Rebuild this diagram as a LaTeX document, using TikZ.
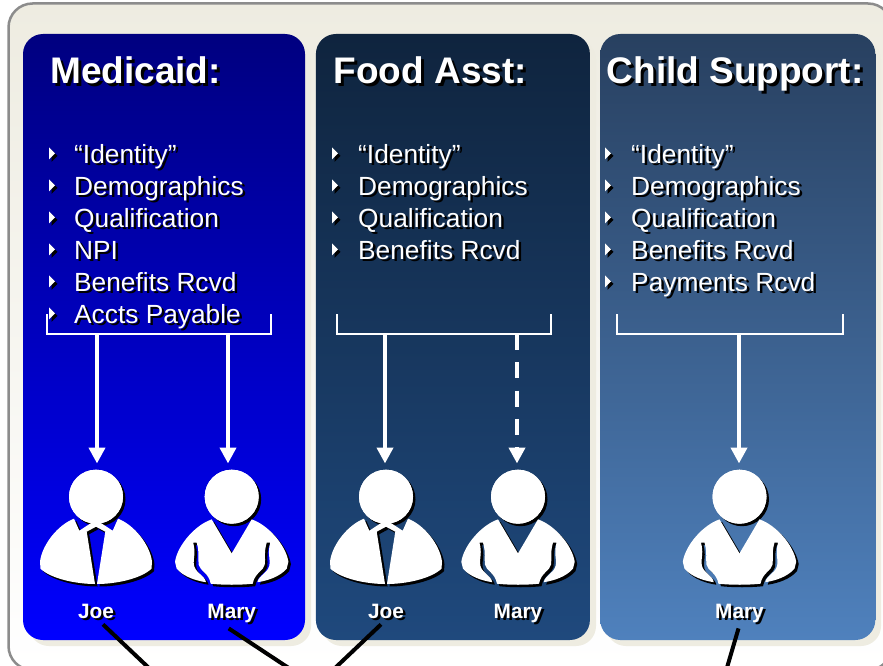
\documentclass[tikz,border=0pt]{standalone}
\usepackage{fontspec}
\setmainfont{Liberation Sans}
\usepackage{tikz}
\usetikzlibrary{arrows.meta,positioning,calc}

\definecolor{frameline}{HTML}{8C8C8C}
\definecolor{beige}{HTML}{EEECE1}

\newcommand{\shtext}[2][2.5pt]{\leavevmode\rlap{\kern#1\raisebox{-#1}{\color{black}#2}}#2}

\tikzset{
  panel/.style={shape=rectangle,rounded corners=20pt,inner sep=0pt,minimum height=606pt},
  backing/.style={fill=beige,rounded corners=20pt},
  title/.style={anchor=base west,inner sep=0pt,text=white,font=\fontsize{37}{40}\selectfont\bfseries},
  itemtext/.style={anchor=base west,inner sep=0pt,text=white,font=\fontsize{26.3}{30}\selectfont},
  namelabel/.style={inner sep=0pt,text=white,font=\fontsize{20.8}{24}\selectfont\bfseries},
  headnode/.style={shape=circle,fill=white,inner sep=0pt,minimum size=54pt},
  bracket/.style={draw=white,line width=2.3pt},
  feed/.style={white,line width=4pt,shorten >=6pt,-{Triangle[width=16pt,length=16pt]}},
  link/.style={black,line width=4pt},
  bullet/.pic={
    \fill[black] (2.5,-3.5) -- (8.5,2.5) -- (2.5,8.5) -- cycle;
    \fill[white] (0,-6) -- (6,0) -- (0,6) -- cycle;
  },
  man/.pic={
    \foreach \off/\col in {2.5/black,0/white} {
      \begin{scope}[shift={(\off,\off)}]
        \foreach \side in {1,-1} {
          \fill[\col,xscale=\side] (-22,22) .. controls (-38,28) and (-54,48) .. (-56,65)
            -- (-55.5,72) .. controls (-45,82) and (-20,87.3) .. (-1,87.3)
            -- (-9.3,35) -- (0,30) -- (0,24.5) -- (-6,27) -- (-16.7,34) -- cycle;
        }
        \fill[\col] (0,0) circle (27);
      \end{scope}
    }
    \node[headnode] (-head) at (0,0) {};
  },
  woman/.pic={
    \foreach \off/\col in {2.5/black,0/white} {
      \begin{scope}[shift={(\off,\off)}]
        \foreach \side in {1,-1} {
          \fill[\col,xscale=\side] (0,56.7) -- (-20,22.7) .. controls (-36,28) and (-54,48) .. (-56.7,65)
            -- (-55,72) .. controls (-48,80) and (-36,84) .. (-25.7,85.5)
            .. controls (-27,78) and (-38,76) .. (-38,66) .. controls (-38,60) and (-36,56) .. (-38.5,46)
            -- (-35,46) .. controls (-32,56) and (-34,62) .. (-33,68) .. controls (-32,74) and (-23,76) .. (-21,87)
            .. controls (-12,88) and (-4,88) .. (0,88) -- (1,88) -- (1,58) -- cycle;
        }
        \fill[\col] (0,0) circle (27);
      \end{scope}
    }
    \node[headnode] (-head) at (0,0) {};
  },
}

\begin{document}
\begin{tikzpicture}[x=1pt,y=-1pt]
\useasboundingbox (0,0) rectangle (883,666);
\clip (0,0) rectangle (883,666);

\draw[draw=frameline,line width=2.5pt,top color=beige,bottom color=white,rounded corners=24pt] (8.5,3.5) rectangle (892,670);

\fill[backing] (29,40) rectangle (311,646);
\fill[backing] (322,40) rectangle (596,646);
\fill[backing] (606,40) rectangle (881,646);

\node[panel,minimum width=282pt,top color=blue!50!black,bottom color=blue] (panelMed) at (164,337) {};
\node[panel,minimum width=274pt,top color={rgb,255:red,15;green,36;blue,62},bottom color={rgb,255:red,31;green,73;blue,125},right=10.5pt of panelMed] (panelFood) {};
\node[panel,minimum width=275pt,top color={rgb,255:red,40;green,64;blue,96},bottom color={rgb,255:red,79;green,129;blue,189},right=10pt of panelFood] (panelChild) {};

\node[title] (titleMed) at (50,84) {\shtext[3pt]{Medicaid:}};
\node[title] (titleFood) at (333.5,84) {\shtext[3pt]{Food Asst:}};
\node[title] (titleChild) at (606.5,84) {\shtext[3pt]{Child Support:}};

\foreach \txt [count=\i] in {“Identity”,Demographics,Qualification,NPI,Benefits Rcvd,Accts Payable}
  {\pic at (49,121.3+32*\i) {bullet};
   \node[itemtext] (med\i) at (74,131+32*\i) {\shtext{\txt}};}
\foreach \txt [count=\i] in {“Identity”,Demographics,Qualification,Benefits Rcvd}
  {\pic at (332,121.3+32*\i) {bullet};
   \node[itemtext] (food\i) at (358,131+32*\i) {\shtext{\txt}};}
\foreach \txt [count=\i] in {“Identity”,Demographics,Qualification,Benefits Rcvd,Payments Rcvd}
  {\pic at (605,121.3+32*\i) {bullet};
   \node[itemtext] (child\i) at (631,131+32*\i) {\shtext{\txt}};}

\draw[bracket] (47,314) |- (271,334) -- (271,314);
\draw[bracket] (337,314) |- (551,334) -- (551,314);
\draw[bracket] (617,314) |- (843,334) -- (843,314);

\pic (joeA) at (96,496.7) {man};
\pic (maryA) at (231.7,496.7) {woman};
\pic (joeB) at (386,496.7) {man};
\pic (maryB) at (518,496.7) {woman};
\pic (maryC) at (739.5,496.7) {woman};

\coordinate (feedJoeA) at (97,334);
\coordinate (feedMaryA) at (228,334);
\coordinate (feedJoeB) at (385,334);
\coordinate (feedMaryB) at (517,334);
\coordinate (feedMaryC) at (739,334);

\draw[feed] (feedJoeA) -- (feedJoeA |- joeA-head.north);
\draw[feed] (feedMaryA) -- (feedMaryA |- maryA-head.north);
\draw[feed] (feedJoeB) -- (feedJoeB |- joeB-head.north);
\draw[feed,dash pattern=on 16pt off 12.3pt] (feedMaryB) -- (feedMaryB |- maryB-head.north);
\draw[feed] (feedMaryC) -- (feedMaryC |- maryC-head.north);

\node[namelabel,below=80pt of joeA-head.south] (nameJoeA) {\shtext{Joe}};
\node[namelabel,below=80pt of maryA-head.south] (nameMaryA) {\shtext{Mary}};
\node[namelabel,below=80pt of joeB-head.south] (nameJoeB) {\shtext{Joe}};
\node[namelabel,below=80pt of maryB-head.south] (nameMaryB) {\shtext{Mary}};
\node[namelabel,below=80pt of maryC-head.south] (nameMaryC) {\shtext{Mary}};

\coordinate (offJoeA) at (170,688);
\coordinate (offMaryA) at (319,688);
\coordinate (offJoeB) at (314,688);
\coordinate (offMaryC) at (721,688);

\draw[link] ([shift={(7,6)}]nameJoeA.base) -- (offJoeA);
\draw[link] ([shift={(-3,10)}]nameMaryA.base) -- (offMaryA);
\draw[link] ([shift={(-5,6)}]nameJoeB.base) -- (offJoeB);
\draw[link] ([shift={(-1,10)}]nameMaryC.base) -- (offMaryC);
\end{tikzpicture}
\end{document}
